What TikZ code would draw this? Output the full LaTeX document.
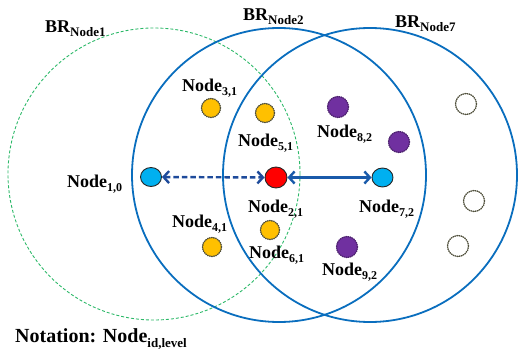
\documentclass[tikz,border=0pt]{standalone}
\usepackage{fontspec}
\setmainfont{Liberation Serif}
\newfontfamily\lblfont{Liberation Serif}[BoldFont={Liberation Serif Bold}]
\usetikzlibrary{arrows.meta,shapes.geometric}
\definecolor{brgreen}{RGB}{45,185,105}
\definecolor{brblue}{RGB}{10,110,190}
\definecolor{arrdark}{RGB}{30,75,155}
\definecolor{arrblue}{RGB}{25,90,170}
\definecolor{nodeblue}{RGB}{0,176,240}
\definecolor{nodeyellow}{RGB}{255,192,0}
\definecolor{nodepurple}{RGB}{112,48,160}
\definecolor{dotgray}{RGB}{80,80,60}
\newcommand\sbx[1]{\raisebox{-4.5pt}{\fontsize{12}{12}\selectfont #1}}
\newcommand\sbr[1]{\raisebox{-4pt}{\fontsize{13}{13}\selectfont #1}}
\newcommand\sbn[1]{\raisebox{-5pt}{\fontsize{13}{13}\selectfont #1}}
\begin{document}
\begin{tikzpicture}[x=1pt,y=-1pt,
  brcircle/.style={draw=brblue,line width=1.8pt},
  greencircle/.style={draw=brgreen,line width=0.9pt,dash pattern=on 3pt off 2pt},
  solidnode/.style={ellipse,draw=black!85,line width=0.9pt,minimum width=21pt,minimum height=19pt,inner sep=0},
  dotnode/.style={circle,line width=1.4pt,dash pattern=on 0.7pt off 1.4pt,line cap=round,minimum size=19pt,inner sep=0},
  lbl/.style={anchor=base west,inner sep=0,font=\lblfont\bfseries\fontsize{18}{20}\selectfont},
  arr/.style={line width=2.4pt,{Straight Barb[length=5.5pt,width=12pt]}-{Straight Barb[length=5.5pt,width=12pt]}}
]
\useasboundingbox (0,0) rectangle (519,353);
% broadcast ranges
\draw[greencircle] (154,174) circle[radius=146pt];
\draw[brcircle] (279,175) circle[radius=147pt];
\draw[brcircle] (370,175) circle[radius=147pt];
% nodes
\node[solidnode,fill=nodeblue] (n1) at (151,177) {};
\node[solidnode,fill=red,minimum width=22pt,minimum height=21pt] (n2) at (276,177.5) {};
\node[solidnode,fill=nodeblue] (n7) at (382.5,177.5) {};
\node[dotnode,fill=nodeyellow,draw=dotgray] (n3) at (211,108) {};
\node[dotnode,fill=nodeyellow,draw=dotgray] (n5) at (265,113) {};
\node[dotnode,fill=nodeyellow,draw=dotgray] (n4) at (212,247) {};
\node[dotnode,fill=nodeyellow,draw=dotgray] (n6) at (270,230) {};
\node[dotnode,fill=nodepurple,draw=nodepurple!70!black,minimum size=21pt] (n8) at (338,107) {};
\node[dotnode,fill=nodepurple,draw=nodepurple!70!black,minimum size=21pt] (n8b) at (399,142) {};
\node[dotnode,fill=nodepurple,draw=nodepurple!70!black,minimum size=21pt] (n9) at (347,247) {};
\node[dotnode,draw=dotgray,minimum size=21pt] (e1) at (466,104) {};
\node[dotnode,draw=dotgray,minimum size=21pt] (e2) at (474,201) {};
\node[dotnode,draw=dotgray,minimum size=21pt] (e3) at (458,246) {};
% links
\draw[arr,draw=arrdark,dash pattern=on 5.5pt off 3pt] (n1) -- (n2);
\draw[arr,draw=arrblue] (n2) -- (n7);
% labels
\node[lbl] (brn1) at (45,33) {BR\sbr{Node1}};
\node[lbl] (brn2) at (243,21) {BR\sbr{Node2}};
\node[lbl] (brn7) at (395,28) {BR\sbr{Node7}};
\node[lbl] (l3) at (182,91) {Node\sbx{3,1}};
\node[lbl] (l5) at (238,146) {Node\sbx{5,1}};
\node[lbl] (l8) at (317,137) {Node\sbx{8,2}};
\node[lbl] (l1) at (67,187) {Node\sbx{1,0}};
\node[lbl] (l2) at (248,212) {Node\sbx{2,1}};
\node[lbl] (l7) at (359,212) {Node\sbx{7,2}};
\node[lbl] (l4) at (172,227) {Node\sbx{4,1}};
\node[lbl] (l6) at (249,258) {Node\sbx{6,1}};
\node[lbl] (l9) at (322,275) {Node\sbx{9,2}};
\node[lbl,font=\lblfont\bfseries\fontsize{20}{22}\selectfont] (nota) at (15,342) {Notation: Node\sbn{id,level}};
\end{tikzpicture}
\end{document}
